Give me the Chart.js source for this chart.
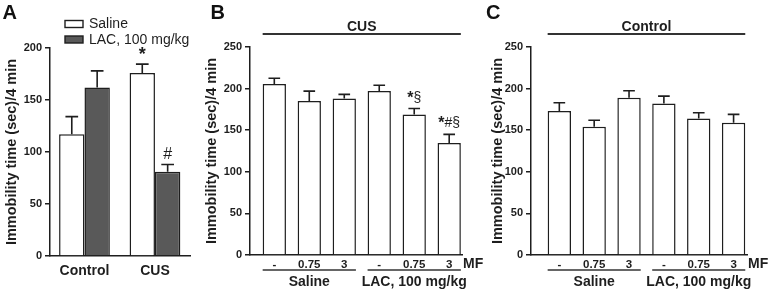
<!DOCTYPE html>
<html>
<head>
<meta charset="utf-8">
<script src="https://cdn.jsdelivr.net/npm/chart.js@4/dist/chart.umd.min.js"></script>
<style>
  html, body { margin: 0; padding: 0; background: #fff; width: 768px; height: 293px; overflow: hidden; }
  canvas { position: absolute; top: 0; }
</style>
</head>
<body>
<canvas id="cA" width="200" height="293" style="left:0px"></canvas>
<canvas id="cB" width="290" height="293" style="left:200px"></canvas>
<canvas id="cC" width="283" height="293" style="left:485px"></canvas>
<script>
// ---------- DATA ----------
// Panel A
const groupsA = ['Control', 'CUS'];
const seriesNamesA = ['Saline', 'LAC, 100 mg/kg'];
const salineA = [117, 176];
const salineErrA = [17, 8.5];
const salineMarksA = ['', '*'];
const lacA = [162, 81];
const lacErrA = [16, 7];
const lacMarksA = ['', '#'];
const ticksA = [0, 50, 100, 150, 200];

// Panels B and C (MF dose within treatment)
const doseLabels = ['-', '0.75', '3', '-', '0.75', '3'];
const treatmentGroups = ['Saline', 'LAC, 100 mg/kg'];
const cusValues = [205.5, 185, 188, 197, 169, 134.5];
const cusErr = [7, 12, 5, 7, 7, 10.5];
const cusMarks = ['', '', '', '', '*§', '*#§'];
const controlValues = [173, 154, 189, 182, 164, 159];
const controlErr = [10, 8, 8.5, 9, 7, 10];
const controlMarks = ['', '', '', '', '', ''];
const ticksBC = [0, 50, 100, 150, 200, 250];

// ---------- STYLE ----------
const FONT = "'Liberation Sans', Arial, sans-serif";
const INK = '#1e1e1e';
const LINE = '#333333';
const DARK = '#595959';
const YTITLE = 'Immobility time (sec)/4 min';

function drawMark(ctx, text, cx, baseY, starFont, otherFont) {
  const chars = Array.from(text);
  const fontOf = c => (c === '*' ? starFont : otherFont);
  let total = 0;
  const widths = chars.map(c => { ctx.font = fontOf(c); const w = ctx.measureText(c).width; total += w; return w; });
  let x = cx - total / 2;
  ctx.textAlign = 'left'; ctx.textBaseline = 'alphabetic';
  chars.forEach((c, i) => {
    ctx.font = fontOf(c);
    const dy = c === '*' ? 1 : 0;
    ctx.fillText(c, x, baseY + dy);
    x += widths[i];
  });
}

const errorBars = {
  id: 'errorBars',
  afterDatasetsDraw(chart, args, opts) {
    const ctx = chart.ctx, y = chart.scales.y;
    chart.data.datasets.forEach((ds, di) => {
      const meta = chart.getDatasetMeta(di);
      meta.data.forEach((bar, i) => {
        const v = ds.data[i].y, e = ds.errors[i];
        const yTop = y.getPixelForValue(v + e);
        const yBase = y.getPixelForValue(v);
        const half = bar.width * 0.25;
        ctx.save();
        ctx.strokeStyle = INK; ctx.lineWidth = 1.6;
        ctx.beginPath();
        ctx.moveTo(bar.x, yBase); ctx.lineTo(bar.x, yTop);
        ctx.moveTo(bar.x - half, yTop); ctx.lineTo(bar.x + half, yTop);
        ctx.stroke();
        const m = ds.marks[i];
        if (m) {
          ctx.fillStyle = INK;
          drawMark(ctx, m, bar.x, yTop - opts.gap, opts.starFont, opts.otherFont);
        }
        ctx.restore();
      });
    });
  }
};

function letterPlugin(letter, x) {
  return {
    id: 'letter' + letter,
    afterDraw(chart) {
      const ctx = chart.ctx;
      ctx.save();
      ctx.fillStyle = '#111'; ctx.font = 'bold 20px ' + FONT;
      ctx.textAlign = 'left'; ctx.textBaseline = 'alphabetic';
      ctx.fillText(letter, x, 19);
      ctx.restore();
    }
  };
}

const legendA = {
  id: 'legendA',
  afterDraw(chart) {
    const ctx = chart.ctx;
    ctx.save();
    chart.data.datasets.forEach((ds, i) => {
      const yc = 24 + i * 15.5;
      ctx.fillStyle = ds.backgroundColor;
      ctx.strokeStyle = INK; ctx.lineWidth = 1.4;
      ctx.fillRect(65, yc - 3.5, 18, 7);
      ctx.strokeRect(65, yc - 3.5, 18, 7);
      ctx.fillStyle = INK; ctx.font = '14px ' + FONT;
      ctx.textAlign = 'left'; ctx.textBaseline = 'middle';
      ctx.fillText(ds.label, 89, yc + 0.5);
    });
    ctx.restore();
  }
};

function bracketPlugin(topLabel) {
  return {
    id: 'brackets',
    afterDraw(chart) {
      const ctx = chart.ctx, area = chart.chartArea;
      const bars = chart.getDatasetMeta(0).data;
      const hb = bars[0].width / 2;
      const left = bars[0].x - hb, right = bars[bars.length - 1].x + hb;
      ctx.save();
      ctx.strokeStyle = LINE; ctx.fillStyle = INK;
      ctx.lineWidth = 2;
      ctx.beginPath(); ctx.moveTo(left, 34); ctx.lineTo(right, 34); ctx.stroke();
      ctx.font = 'bold 14px ' + FONT; ctx.textAlign = 'center'; ctx.textBaseline = 'middle';
      ctx.fillText(topLabel, (left + right) / 2, 27);
      const per = doseLabels.length / treatmentGroups.length;
      ctx.lineWidth = 1.5;
      treatmentGroups.forEach((g, gi) => {
        const a = bars[gi * per].x - hb, b = bars[gi * per + per - 1].x + hb;
        ctx.beginPath(); ctx.moveTo(a, 270); ctx.lineTo(b, 270); ctx.stroke();
        ctx.fillText(g, (a + b) / 2, 282);
      });
      ctx.textAlign = 'left';
      ctx.fillText('MF', area.right + 1, 264);
      ctx.restore();
    }
  };
}

function yScale(max, tickVals, width, titlePad) {
  return {
    min: 0, max: max,
    afterBuildTicks(s) { s.ticks = tickVals.map(v => ({ value: v })); },
    ticks: { font: { family: FONT, size: 11, weight: 'bold' }, color: INK, padding: 3 },
    grid: { drawOnChartArea: false, drawTicks: true, tickLength: 5, color: INK, lineWidth: 1.5 },
    border: { color: INK, width: 1.5 },
    title: { display: true, text: YTITLE, color: INK,
             font: { family: FONT, size: 14.5, weight: 'bold' }, padding: { top: titlePad, bottom: 0 } },
    afterFit(s) { s.width = width; }
  };
}

function xScale(min, max, labels, font, pad, height) {
  return {
    type: 'linear', min: min, max: max, offset: false,
    afterBuildTicks(s) { s.ticks = labels.map((_, i) => ({ value: i + 1 })); },
    ticks: { autoSkip: false, maxRotation: 0, minRotation: 0,
             callback: (v, i) => labels[i], font: font, color: INK, padding: pad },
    grid: { display: false, drawTicks: false, offset: false },
    border: { color: INK, width: 1.5 },
    afterFit(s) { s.height = height; }
  };
}

const pts = arr => arr.map((v, i) => ({ x: i + 1, y: v }));

const common = {
  responsive: false, maintainAspectRatio: false, animation: false, devicePixelRatio: 1, events: [],
};

// Panel A
new Chart(document.getElementById('cA'), {
  type: 'bar',
  data: {
    datasets: [
      { label: seriesNamesA[0], data: pts(salineA), errors: salineErrA, marks: salineMarksA,
        backgroundColor: '#ffffff', borderColor: INK, borderWidth: 1.5,
        barPercentage: 1, categoryPercentage: 0.72 },
      { label: seriesNamesA[1], data: pts(lacA), errors: lacErrA, marks: lacMarksA,
        backgroundColor: DARK, borderColor: INK, borderWidth: 1.5,
        barPercentage: 1, categoryPercentage: 0.72 }
    ]
  },
  options: Object.assign({}, common, {
    layout: { padding: { top: 48, right: 10, bottom: 0, left: 0 } },
    scales: {
      x: xScale(0.511, 2.497, groupsA, { family: FONT, size: 14, weight: 'bold' }, 7, 37),
      y: yScale(200, ticksA, 50, 3)
    },
    plugins: { legend: { display: false }, tooltip: { enabled: false },
               errorBars: { starFont: 'bold 18px ' + FONT, otherFont: '16px ' + FONT, gap: 5 } }
  }),
  plugins: [errorBars, legendA, letterPlugin('A', 2.5)]
});

// Panel B
new Chart(document.getElementById('cB'), {
  type: 'bar',
  data: {
    datasets: [
      { label: 'CUS', data: pts(cusValues), errors: cusErr, marks: cusMarks,
        backgroundColor: '#ffffff', borderColor: INK, borderWidth: 1.5,
        barPercentage: 1, categoryPercentage: 0.666 }
    ]
  },
  options: Object.assign({}, common, {
    layout: { padding: { top: 47, right: 28, bottom: 0, left: 0 } },
    scales: {
      x: xScale(0.305, 6.366, doseLabels, { family: FONT, size: 11.5, weight: 'bold' }, 3, 38),
      y: yScale(250, ticksBC, 50, 3)
    },
    plugins: { legend: { display: false }, tooltip: { enabled: false },
               errorBars: { starFont: 'bold 16px ' + FONT, otherFont: '14px ' + FONT, gap: 7 } }
  }),
  plugins: [errorBars, bracketPlugin('CUS'), letterPlugin('B', 10.5)]
});

// Panel C
new Chart(document.getElementById('cC'), {
  type: 'bar',
  data: {
    datasets: [
      { label: 'Control', data: pts(controlValues), errors: controlErr, marks: controlMarks,
        backgroundColor: '#ffffff', borderColor: INK, borderWidth: 1.5,
        barPercentage: 1, categoryPercentage: 0.67 }
    ]
  },
  options: Object.assign({}, common, {
    layout: { padding: { top: 47, right: 21, bottom: 0, left: 0 } },
    scales: {
      x: xScale(0.187, 6.385, doseLabels, { family: FONT, size: 11.5, weight: 'bold' }, 3, 38),
      y: yScale(250, ticksBC, 46, 4)
    },
    plugins: { legend: { display: false }, tooltip: { enabled: false },
               errorBars: { starFont: 'bold 16px ' + FONT, otherFont: '14px ' + FONT, gap: 7 } }
  }),
  plugins: [errorBars, bracketPlugin('Control'), letterPlugin('C', 1)]
});
</script>
</body>
</html>
